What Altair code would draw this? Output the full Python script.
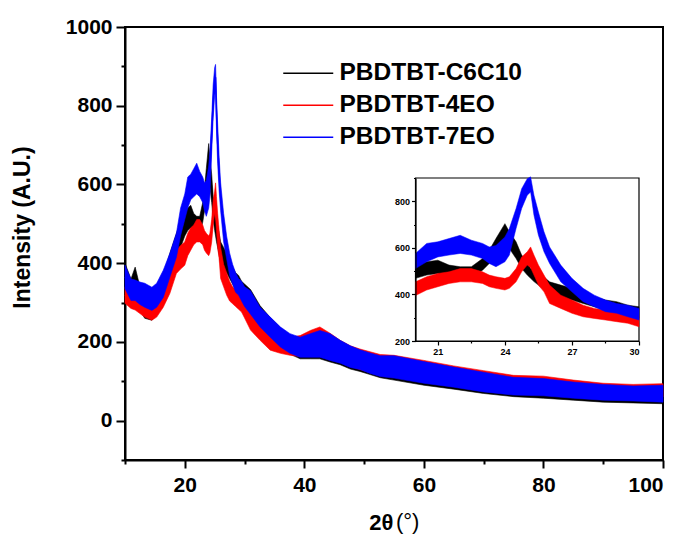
import altair as alt
import pandas as pd

# ---------------- data ----------------
two_theta = [10, 11, 11.7, 12.5, 13.3, 14.5, 15.3, 16.4, 17.5, 18.6, 19.3,
             20, 20.5, 21, 21.5, 22, 22.5, 23, 23.3, 23.6, 24, 24.2, 24.5, 24.75, 25, 25.15,
             25.3, 25.5, 25.75, 26, 26.5, 27, 27.5, 28, 28.5, 29, 29.5, 30,
             31, 32.6, 34.3, 36, 37.6, 39.3, 41, 42.6, 44.3, 46, 47.7, 49.3, 51, 52.7,
             55, 60, 65, 70, 75, 80, 85, 90, 95, 100]

# PBDTBT-C6C10 (black): lower / upper edge of the noisy trace
c6c10_lo = [330, 300, 290, 280, 260, 255, 270, 305, 360, 415, 440,
            469, 483, 490, 476, 469, 476, 504, 533, 569, 626, 597, 554, 511, 483, 469,
            455, 440, 420, 397, 383, 376, 361, 347, 333, 326, 311, 297,
            268, 238, 210, 185, 169, 157, 157, 157, 149, 142, 131, 125, 117, 109,
            103, 90, 80, 69, 61, 57, 52, 47, 45, 43]
c6c10_hi = [400, 360, 390, 340, 323, 315, 335, 370, 425, 476, 505,
            526, 540, 547, 526, 519, 519, 554, 590, 640, 704, 669, 626, 569, 540, 511,
            505, 497, 475, 454, 440, 426, 404, 390, 376, 369, 354, 347,
            333, 292, 262, 236, 218, 208, 212, 215, 210, 197, 183, 173, 165, 158,
            158, 143, 130, 117, 104, 100, 92, 86, 82, 84]

# PBDTBT-4EO (red)
eo4_lo = [298, 285, 281, 272, 263, 255, 263, 288, 323, 374, 385,
          395, 419, 433, 447, 454, 454, 447, 433, 426, 419, 426, 454, 497, 526, 515,
          483, 440, 411, 361, 340, 319, 304, 297, 290, 283, 276, 261,
          230, 204, 179, 171, 166, 163, 166, 166, 158, 153, 138, 130, 122, 115,
          110, 100, 90, 80, 72, 73, 65, 60, 58, 60]
eo4_hi = [340, 328, 323, 318, 313, 313, 323, 349, 390, 433, 445,
          454, 476, 490, 497, 511, 511, 497, 483, 476, 469, 476, 511, 561, 583, 604,
          569, 526, 483, 440, 397, 376, 354, 340, 333, 326, 319, 311,
          295, 263, 230, 212, 212, 216, 229, 238, 222, 204, 190, 182, 175, 168,
          166, 153, 139, 127, 115, 113, 103, 95, 92, 94]

# PBDTBT-7EO (blue)
eo7_lo = [335, 305, 305, 295, 288, 280, 288, 313, 364, 415, 470,
          511, 540, 561, 569, 576, 569, 554, 533, 519, 540, 569, 683, 769, 826, 840,
          740, 654, 583, 533, 454, 411, 369, 347, 326, 319, 304, 290,
          270, 238, 212, 187, 171, 161, 161, 161, 153, 146, 135, 130, 120, 112,
          108, 95, 85, 73, 65, 63, 57, 52, 50, 47]
eo7_hi = [395, 360, 357, 352, 349, 339, 349, 382, 425, 476, 540,
          576, 619, 626, 640, 654, 633, 619, 604, 610, 647, 683, 769, 854, 897, 905,
          826, 754, 669, 604, 526, 469, 426, 397, 376, 361, 354, 340,
          330, 288, 263, 238, 221, 212, 221, 229, 221, 204, 190, 180, 172, 165,
          165, 150, 136, 123, 110, 107, 98, 92, 88, 90]

series_names = ["PBDTBT-C6C10", "PBDTBT-4EO", "PBDTBT-7EO"]
series_colors = ["#000000", "#ff0000", "#0000ff"]

main_x_ticks = list(range(10, 101, 10))
main_y_ticks = list(range(-100, 1001, 100))
inset_x_ticks = [21, 22.5, 24, 25.5, 27, 28.5, 30]
inset_y_ticks = list(range(200, 901, 100))

# ---------------- tables ----------------
rows = []
for name, lo, hi in zip(series_names, [c6c10_lo, eo4_lo, eo7_lo], [c6c10_hi, eo4_hi, eo7_hi]):
    for x, a, b in zip(two_theta, lo, hi):
        rows.append({"series": name, "x": x, "lo": a, "hi": b, "mid": (a + b) / 2})
df = pd.DataFrame(rows)
inset_df = df[(df["x"] >= 20) & (df["x"] <= 30)]
frame_df = pd.DataFrame({"x0": [20], "x1": [30], "y0": [200], "y1": [900]})
unit_df = pd.DataFrame({"t": ["(°)"]})

FONT = "Liberation Sans"
W, H = 538, 433

# ---------------- main panel ----------------
x_main = alt.Scale(domain=[10, 100], nice=False, zero=False)
y_main = alt.Scale(domain=[-100, 1000], nice=False, zero=False)

x_axis = alt.Axis(
    values=main_x_ticks, format="d",
    labelExpr="datum.value % 20 === 0 ? datum.label : ''",
    tickSize={"condition": {"test": "datum.value % 20 === 0", "value": 8}, "value": 4},
    title="2θ", titleFont=FONT, titleFontSize=22, titleFontWeight="bold",
    titleX=268, titleY=69, titleAlign="right", titleBaseline="alphabetic",
    labelFont=FONT, labelFontSize=21, labelFontWeight="bold", labelPadding=6,
    labelColor="black", tickColor="black", domainColor="black",
    tickWidth=2, domainWidth=2, grid=False,
)
y_axis = alt.Axis(
    values=main_y_ticks, format="d",
    labelExpr="datum.value % 200 === 0 ? datum.label : ''",
    tickSize={"condition": {"test": "datum.value % 200 === 0", "value": 9}, "value": 4},
    title="Intensity (A.U.)", titleFont=FONT, titleFontSize=23, titleFontWeight="bold",
    titleX=-103, titleY=200, titleAngle=270, titleAlign="center", titleBaseline="middle",
    labelFont=FONT, labelFontSize=21, labelFontWeight="bold", labelPadding=4,
    labelColor="black", tickColor="black", domainColor="black",
    tickWidth=2, domainWidth=2, grid=False,
)

stroke_scale = alt.Scale(domain=series_names, range=series_colors)

legend_line = alt.Chart(df).mark_line(strokeWidth=1.5).encode(
    x=alt.X("x:Q", scale=x_main, axis=x_axis),
    y=alt.Y("mid:Q", scale=y_main, axis=y_axis),
    stroke=alt.Stroke("series:N", scale=stroke_scale, sort=series_names,
                      legend=alt.Legend(
                          orient="none", legendX=171, legendY=34, title=None,
                          labelFont=FONT, labelFontSize=24.5, labelFontWeight="bold",
                          labelColor="black", labelLimit=0, symbolType="M-5,0H5", symbolSize=100,
                          symbolStrokeWidth=1.5, rowPadding=7, labelOffset=19)),
    detail="series:N",
)

main_layers = [legend_line]
for name, col in zip(series_names, series_colors):
    main_layers.append(
        alt.Chart(df[df["series"] == name]).mark_area(color=col, stroke=col, strokeWidth=0.6).encode(
            x=alt.X("x:Q", scale=x_main, axis=x_axis),
            y=alt.Y("lo:Q", scale=y_main, axis=y_axis),
            y2="hi:Q",
        )
    )

unit_text = alt.Chart(unit_df).mark_text(
    font=FONT, fontSize=22, fontWeight="normal", align="left", baseline="alphabetic", color="black"
).encode(text="t:N", x=alt.value(271), y=alt.value(502))
main_layers.append(unit_text)

main = alt.layer(*main_layers)

# ---------------- inset ----------------
x_in = alt.Scale(domain=[20, 30], range=[290.5, 514], nice=False, zero=False)
y_in = alt.Scale(domain=[200, 900], range=[314, 151], nice=False, zero=False)

x_in_axis = alt.Axis(
    orient="bottom", offset=-119, values=inset_x_ticks, format="d",
    labelExpr="datum.value % 3 === 0 ? datum.label : ''",
    tickSize={"condition": {"test": "datum.value % 3 === 0", "value": 4}, "value": 2},
    title=None, labelFont=FONT, labelFontSize=9, labelFontWeight="bold", labelPadding=2,
    labelColor="black", tickColor="black", domainColor="black",
    tickWidth=1.2, domainWidth=1.2, grid=False, zindex=1,
)
y_in_axis = alt.Axis(
    orient="left", offset=-290.5, values=inset_y_ticks, format="d",
    labelExpr="datum.value % 200 === 0 ? datum.label : ''",
    tickSize={"condition": {"test": "datum.value % 200 === 0", "value": 4}, "value": 2},
    title=None, labelFont=FONT, labelFontSize=9, labelFontWeight="bold", labelPadding=2,
    labelColor="black", tickColor="black", domainColor="black",
    tickWidth=1.2, domainWidth=1.2, grid=False, zindex=1,
)

inset_layers = [
    alt.Chart(frame_df).mark_rect(filled=False, color="black", strokeWidth=1.2).encode(
        x=alt.X("x0:Q", scale=x_in, axis=x_in_axis),
        x2="x1:Q",
        y=alt.Y("y0:Q", scale=y_in, axis=y_in_axis),
        y2="y1:Q",
    )
]
for name, col in zip(series_names, series_colors):
    inset_layers.append(
        alt.Chart(inset_df[inset_df["series"] == name]).mark_area(color=col, stroke=col, strokeWidth=0.5).encode(
            x=alt.X("x:Q", scale=x_in, axis=x_in_axis),
            y=alt.Y("lo:Q", scale=y_in, axis=y_in_axis),
            y2="hi:Q",
        )
    )
inset = alt.layer(*inset_layers)

chart = alt.layer(main, inset).resolve_scale(x="independent", y="independent").properties(
    width=W, height=H,
    autosize=alt.AutoSizeParams(type="none"),
    padding={"left": 117, "top": 19, "right": 15, "bottom": 74},
    background="white",
).configure_view(stroke="black", strokeWidth=2)

chart.save("out.html", embed_options={"renderer": "svg", "actions": False})
